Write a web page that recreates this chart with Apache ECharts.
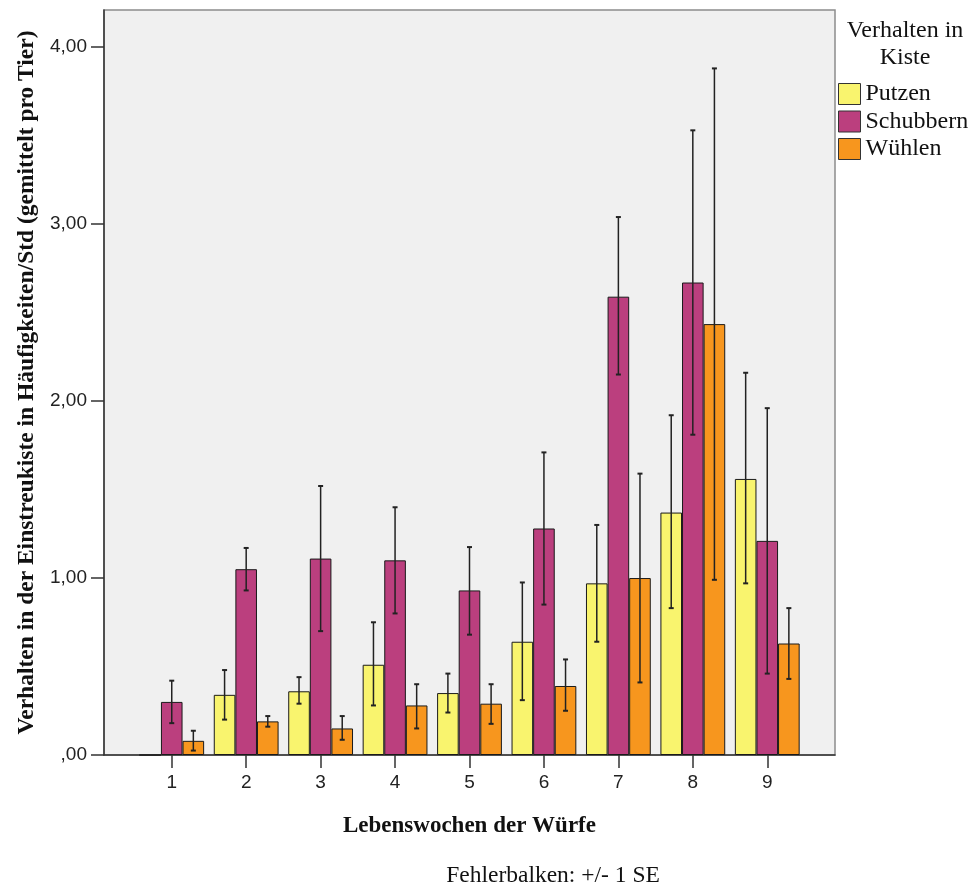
<!DOCTYPE html>
<html>
<head>
<meta charset="utf-8">
<script src="https://cdn.jsdelivr.net/npm/echarts@6/dist/echarts.min.js"></script>
<style>
  html, body { margin: 0; padding: 0; background: #ffffff; }
  #chart { width: 975px; height: 886px; }
</style>
</head>
<body>
<div id="chart"></div>
<script>
// ---- data ----
const weeks = [1, 2, 3, 4, 5, 6, 7, 8, 9];
const seriesNames = ['Putzen', 'Schubbern', 'Wühlen'];
const yTicks = [0, 1, 2, 3, 4];

const putzen     = [0.00, 0.34, 0.36, 0.51, 0.35, 0.64, 0.97, 1.37, 1.56];
const putzenLow  = [null, 0.20, 0.29, 0.28, 0.24, 0.31, 0.64, 0.83, 0.97];
const putzenHigh = [null, 0.48, 0.44, 0.75, 0.46, 0.975, 1.30, 1.92, 2.16];

const schubbern     = [0.30, 1.05, 1.11, 1.10, 0.93, 1.28, 2.59, 2.67, 1.21];
const schubbernLow  = [0.18, 0.93, 0.70, 0.80, 0.68, 0.85, 2.15, 1.81, 0.46];
const schubbernHigh = [0.42, 1.17, 1.52, 1.40, 1.175, 1.71, 3.04, 3.53, 1.96];

const wuehlen     = [0.08, 0.19, 0.15, 0.28, 0.29, 0.39, 1.00, 2.435, 0.63];
const wuehlenLow  = [0.025, 0.16, 0.086, 0.15, 0.176, 0.25, 0.41, 0.99, 0.43];
const wuehlenHigh = [0.137, 0.22, 0.22, 0.40, 0.40, 0.54, 1.59, 3.88, 0.83];

// ---- styling ----
const colors = ['#F9F46E', '#BB3F7E', '#F7961E'];
const SERIF = '"Liberation Serif", "Times New Roman", serif';
const SANS = '"Liberation Sans", Arial, sans-serif';
const BAR_W = 21.6;

const means = [putzen, schubbern, wuehlen];
const lows = [putzenLow, schubbernLow, wuehlenLow];
const highs = [putzenHigh, schubbernHigh, wuehlenHigh];

function fmtY(v) {
  const s = v.toFixed(2).replace('.', ',');
  return v === 0 ? s.replace(/^0/, '') : s;
}

const barSeries = seriesNames.map((name, k) => ({
  name: name,
  type: 'bar',
  barWidth: BAR_W,
  barGap: '0%',
  data: weeks.map((w, i) => [w, means[k][i]]),
  itemStyle: { color: colors[k], borderColor: '#1a1a1a', borderWidth: 1 },
  emphasis: { disabled: true },
  z: 2
}));

const errSeries = seriesNames.map((name, k) => ({
  name: name + ' SE',
  type: 'custom',
  z: 5,
  data: weeks.map((w, i) => [w, lows[k][i], highs[k][i]]).filter(d => d[1] !== null),
  renderItem: function (params, api) {
    const x = api.value(0);
    const lo = api.value(1), hi = api.value(2);
    const pTop = api.coord([x, hi]);
    const pBot = api.coord([x, lo]);
    const cx = pTop[0] + (k - 1) * BAR_W;
    const cap = 2.5;
    const st = { stroke: '#222', lineWidth: 1.5 };
    return {
      type: 'group',
      children: [
        { type: 'line', shape: { x1: cx, y1: pTop[1], x2: cx, y2: pBot[1] }, style: st },
        { type: 'line', shape: { x1: cx - cap, y1: pTop[1], x2: cx + cap, y2: pTop[1] }, style: { stroke: '#222', lineWidth: 2 } },
        { type: 'line', shape: { x1: cx - cap, y1: pBot[1], x2: cx + cap, y2: pBot[1] }, style: { stroke: '#222', lineWidth: 2 } }
      ]
    };
  }
}));

const option = {
  animation: false,
  backgroundColor: '#ffffff',
  title: [
    {
      text: 'Verhalten in\nKiste',
      left: 905, top: 17, textAlign: 'center', padding: 0,
      textStyle: { fontFamily: SERIF, fontSize: 24, fontWeight: 'normal', color: '#111', lineHeight: 27 }
    },
    {
      text: 'Fehlerbalken: +/- 1 SE',
      left: 553, top: 864, textAlign: 'center', padding: 0,
      textStyle: { fontFamily: SERIF, fontSize: 23.5, fontWeight: 'normal', color: '#111' }
    }
  ],
  legend: {
    data: seriesNames,
    orient: 'vertical',
    left: 838, top: 82,
    padding: 0,
    itemWidth: 22, itemHeight: 21, itemGap: 3.5,
    icon: 'rect',
    itemStyle: { borderColor: '#333', borderWidth: 1 },
    textStyle: { fontFamily: SERIF, fontSize: 24, color: '#111', lineHeight: 22 }
  },
  grid: {
    left: 104, right: 140, top: 10, bottom: 131,
    show: true, backgroundColor: '#f0f0f0',
    borderColor: '#8c8c8c', borderWidth: 1.5
  },
  xAxis: {
    type: 'value',
    min: 0.09, max: 9.91,
    name: 'Lebenswochen der Würfe',
    nameLocation: 'middle', nameGap: 60,
    nameTextStyle: { fontFamily: SERIF, fontSize: 23, fontWeight: 'bold', color: '#111' },
    splitLine: { show: false },
    axisLine: { show: true, onZero: false, lineStyle: { color: '#333', width: 1.5 } },
    axisTick: { show: true, length: 13, customValues: weeks, lineStyle: { color: '#333', width: 1.5 } },
    axisLabel: { customValues: weeks, margin: 18, fontFamily: SANS, fontSize: 19, color: '#222' }
  },
  yAxis: {
    type: 'value',
    min: 0, max: 4.21,
    name: 'Verhalten in der Einstreukiste in Häufigkeiten/Std (gemittelt pro Tier)',
    nameLocation: 'middle', nameGap: 62, nameRotate: 90,
    nameTextStyle: { fontFamily: SERIF, fontSize: 23.5, fontWeight: 'bold', color: '#111' },
    splitLine: { show: false },
    axisLine: { show: true, lineStyle: { color: '#333', width: 1.5 } },
    axisTick: { show: true, length: 13, customValues: yTicks, lineStyle: { color: '#333', width: 1.5 } },
    axisLabel: { customValues: yTicks, margin: 17, fontFamily: SANS, fontSize: 19, color: '#222', formatter: fmtY }
  },
  series: barSeries.concat(errSeries)
};

const chart = echarts.init(document.getElementById('chart'), null, { renderer: 'canvas' });
chart.setOption(option);
</script>
</body>
</html>
